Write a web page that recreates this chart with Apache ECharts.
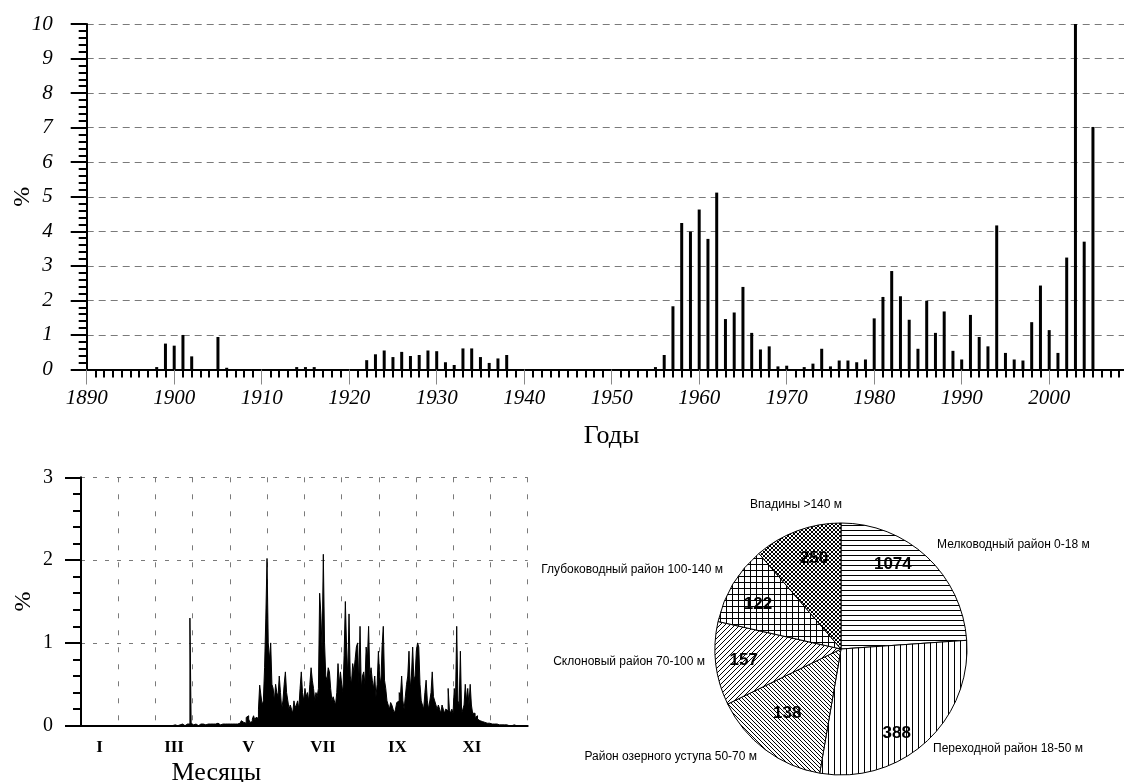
<!DOCTYPE html>
<html><head><meta charset="utf-8">
<script src="https://cdn.jsdelivr.net/npm/echarts@6/dist/echarts.min.js"></script>
<style>html,body{margin:0;padding:0;background:#fff}#c{width:1124px;height:782px}</style>
</head><body><div id="c"></div>
<script>
// ---- Top chart: share (%) by year ----
const barYears = [1898,1899,1900,1901,1902,1905,1906,1914,1915,1916,
  1922,1923,1924,1925,1926,1927,1928,1929,1930,1931,1932,1933,1934,1935,1936,1937,1938,
  1955,1956,1957,1958,1959,1960,1961,1962,1963,1964,1965,1966,1967,1968,1969,1970,1972,1973,1974,1975,1976,1977,1978,1979,
  1980,1981,1982,1983,1984,1985,1986,1987,1988,1989,1990,1991,1992,1993,1994,1995,1996,1997,1998,1999,
  2000,2001,2002,2003,2004,2005];
const barPct = [0.07,0.75,0.69,1.0,0.38,0.94,0.05,0.07,0.07,0.07,
  0.27,0.44,0.55,0.36,0.51,0.39,0.42,0.55,0.53,0.21,0.13,0.61,0.61,0.36,0.19,0.32,0.42,
  0.07,0.42,1.83,4.24,3.99,4.63,3.78,5.12,1.46,1.65,2.39,1.06,0.58,0.67,0.09,0.11,0.07,0.17,0.6,0.09,0.26,0.26,0.21,0.29,
  1.48,2.1,2.85,2.12,1.44,0.6,1.99,1.06,1.68,0.54,0.29,1.58,0.94,0.67,4.17,0.48,0.29,0.26,1.37,2.43,
  1.14,0.48,3.24,10.0,3.70,7.02];

// ---- Bottom-left: share (%) by day of year (1..365) ----
const monthLabels = ['I','II','III','IV','V','VI','VII','VIII','IX','X','XI','XII'];
const dekads = ['1','2','3','4','5','6','7','8','9','10','11','12','13','14','15','16','17','18',
  '19','20','21','22','23','24','25','26','27','28','29','30','31','32','33','34','35','36'];
const dailyPct = [
  // days 1-75
  0,0,0,0,0,0,0,0,0,0,0,0,0,0,0,0,0,0,0,0,0,0,0,0,0,0,0,0,0,0,
  0,0,0,0,0,0,0,0,0,0,0,0,0,0,0,0,0,0,0,0,0,0,0,0,0,0,0,0,0,0,
  0,0,0,0,0,0,0,0,0,0,0,0,0,0,0,
  // 76-89
  0,0.01,0,0,0.01,0.01,0,0.02,0.01,0,0.01,0.02,0.01,0.02,
  // 90
  1.30,
  // 91-123
  0.03,0.01,0.01,0.02,0.01,0,0.01,0.02,0.01,0.02,
  0.02,0.01,0.03,0.02,0.01,0.02,0.03,0.02,0.01,0.02,
  0.02,0.03,0.02,0.01,0.03,0.02,0.03,0.02,0.04,0.02,0.03,0.02,0.03,
  // 124-149
  0.02,0.01,0.02,0.03,0.02,0.04,0.03,0.05,
  0.06,0.04,0.06,0.03,0.1,0.12,0.08,0.04,0.05,
  0.08,0.12,0.07,0.1,0.09,0.2,0.49,0.37,0.25,
  // 150-156
  0.3,0.7,1.3,2.02,1.0,0.8,1.0,
  // 157-165
  0.5,0.45,0.3,0.5,0.4,0.35,0.6,0.4,0.2,
  // 166-175
  0.3,0.5,0.65,0.4,0.3,0.2,0.25,0.2,0.15,0.3,
  // 176-185
  0.22,0.25,0.3,0.2,0.45,0.65,0.4,0.3,0.45,0.35,
  // 186-195
  0.4,0.3,0.5,0.7,0.55,0.45,0.3,0.4,0.35,0.45,
  // 196-205
  1.6,1.35,0.9,2.07,1.0,0.6,0.55,0.7,0.65,0.45,
  // 206-215
  0.3,0.35,0.3,0.25,0.4,0.75,0.5,0.65,0.5,0.4,
  // 216-225
  0.85,1.5,0.95,0.6,1.35,0.6,0.5,0.75,0.65,0.8,
  // 226-235
  0.95,1.0,0.5,1.2,0.45,0.6,0.65,0.5,0.95,0.8,
  // 236-245
  1.2,0.6,0.7,0.55,0.45,0.6,0.35,0.5,0.9,0.6,
  // 246-255
  0.5,0.95,1.2,0.55,0.45,0.3,0.25,0.2,0.28,0.25,
  // 256-265
  0.2,0.15,0.2,0.28,0.3,0.4,0.35,0.6,0.3,0.2,
  // 266-275
  0.35,0.5,0.6,0.9,0.45,0.6,0.95,0.55,0.6,0.9,
  // 276-285
  1.0,0.95,0.5,0.3,0.25,0.2,0.4,0.55,0.3,0.2,
  // 286-295
  0.3,0.4,0.65,0.35,0.3,0.25,0.2,0.25,0.2,0.15,
  // 296-305
  0.25,0.2,0.15,0.2,0.18,0.45,0.2,0.15,0.2,0.15,
  // 306-315
  0.45,0.3,1.2,0.3,0.25,0.9,0.15,0.2,0.25,0.5,
  // 316-325
  0.3,0.45,0.25,0.5,0.25,0.15,0.15,0.1,0.12,0.08,
  // 326-335
  0.06,0.06,0.05,0.04,0.04,0.03,0.03,0.02,0.03,0.02,
  // 336-345
  0.02,0.03,0.02,0.01,0.02,0.02,0.01,0.02,0.01,0.01,
  // 346-355
  0.01,0,0.01,0.01,0,0.01,0,0,0.01,0,
  // 356-365
  0,0,0,0,0,0,0,0,0,0
];

// ---- Bottom-right: zones ----
const zoneNames = ['Мелководный район 0-18 м','Переходной район 18-50 м','Район озерного уступа 50-70 м',
  'Склоновый район 70-100 м','Глубоководный район 100-140 м','Впадины >140 м'];
const zoneCounts = [1074,388,138,157,122,250];
const zoneShare = [23.9,28.8,15.1,10.7,10.2,11.3];

// ---- styling helpers ----
function pattern(size, draw){
  const c = document.createElement('canvas'); c.width = size; c.height = size;
  const g = c.getContext('2d'); g.fillStyle = '#fff'; g.fillRect(0,0,size,size);
  g.strokeStyle = '#000'; g.lineWidth = 1; g.beginPath(); draw(g,size); g.stroke();
  return {image: c, repeat: 'repeat'};
}
const patterns = [
  pattern(5,(g,s)=>{g.moveTo(0,0.5);g.lineTo(s,0.5);}),
  pattern(6,(g,s)=>{g.moveTo(0.5,0);g.lineTo(0.5,s);}),
  pattern(4,(g,s)=>{g.moveTo(-1,-1);g.lineTo(s+1,s+1);g.moveTo(-1,s-1);g.lineTo(1,s+1);g.moveTo(s-1,-1);g.lineTo(s+1,1);}),
  pattern(5,(g,s)=>{g.moveTo(-1,s+1);g.lineTo(s+1,-1);g.moveTo(-1,1);g.lineTo(1,-1);g.moveTo(s-1,s+1);g.lineTo(s+1,s-1);}),
  pattern(6,(g,s)=>{g.moveTo(0,0.5);g.lineTo(s,0.5);g.moveTo(0.5,0);g.lineTo(0.5,s);}),
  pattern(4,(g,s)=>{g.moveTo(-1,-1);g.lineTo(s+1,s+1);g.moveTo(-1,s+1);g.lineTo(s+1,-1);})
];
const namePos = [[937,545,'left'],[933,749,'left'],[757,757,'right'],[705,662,'right'],[723,570,'right'],[796,505,'center']];
const countShift = [[-15,-13],[-10,12],[5,-14],[0,0],[1,6],[7,1]];

const serif = '"Liberation Serif","Times New Roman",serif';
const sans = '"Liberation Sans",Arial,sans-serif';
const gridDash = {color:'#7a7a7a', type:[7,5], width:1};

const chart = echarts.init(document.getElementById('c'), null, {renderer:'canvas'});
chart.setOption({
  animation: false,
  backgroundColor: '#fff',
  grid: [
    {left: 86.7, top: 24, right: -12.7, bottom: 412.5, containLabel: false, outerBoundsMode: 'none'},
    {left: 81, top: 477.3, right: 596.3, bottom: 56.3, containLabel: false, outerBoundsMode: 'none'}
  ],
  xAxis: [
    {type:'value', gridIndex:0, min:1890, max:2010, interval:10,
      axisLine:{lineStyle:{color:'#000', width:2}},
      axisTick:{length:15, lineStyle:{color:'#888', width:1}},
      minorTick:{show:true, splitNumber:10, length:8, lineStyle:{color:'#000', width:2}},
      splitLine:{show:false},
      axisLabel:{color:'#000', fontFamily:serif, fontStyle:'italic', fontSize:21, margin:18,
        formatter: v => (v <= 2000 ? String(v) : '')},
      name:'Годы', nameLocation:'middle', nameGap:54, nameMoveOverlap:false,
      nameTextStyle:{color:'#000', fontFamily:serif, fontSize:26}},
    {type:'category', gridIndex:1, data: monthLabels, boundaryGap:true,
      axisLine:{lineStyle:{color:'#000', width:2}},
      axisTick:{interval:0, length:11, lineStyle:{color:'#000', width:2}},
      splitLine:{show:true, interval:0, lineStyle:{color:'#7a7a7a', type:[5,12], width:1}},
      axisLabel:{interval:1, color:'#000', fontFamily:serif, fontWeight:'bold', fontSize:17, margin:13},
      name:'Месяцы', nameLocation:'middle', nameGap:34, nameMoveOverlap:false,
      nameTextStyle:{color:'#000', fontFamily:serif, fontSize:26, padding:[0,176,0,0]}},
    {type:'category', gridIndex:1, data: dekads, boundaryGap:true,
      axisLine:{show:false}, axisLabel:{show:false}, splitLine:{show:false},
      axisTick:{interval:0, length:6, lineStyle:{color:'#000', width:2}}},
    {type:'value', gridIndex:1, min:0, max:365, show:false}
  ],
  yAxis: [
    {type:'value', gridIndex:0, min:0, max:10, interval:1,
      axisLine:{show:true, lineStyle:{color:'#000', width:2}},
      axisTick:{show:true, length:16, lineStyle:{color:'#000', width:2}},
      minorTick:{show:true, splitNumber:5, length:8, lineStyle:{color:'#000', width:2}},
      splitLine:{show:true, lineStyle:gridDash},
      axisLabel:{color:'#000', fontFamily:serif, fontStyle:'italic', fontSize:21, margin:34},
      name:'%', nameLocation:'middle', nameGap:52, nameMoveOverlap:false,
      nameTextStyle:{color:'#000', fontFamily:serif, fontSize:24}},
    {type:'value', gridIndex:1, min:0, max:3, interval:1,
      axisLine:{show:true, lineStyle:{color:'#000', width:2}},
      axisTick:{show:true, length:16, lineStyle:{color:'#000', width:2}},
      minorTick:{show:true, splitNumber:5, length:8, lineStyle:{color:'#000', width:2}},
      splitLine:{show:true, lineStyle:{color:'#7a7a7a', type:[4,8], width:1}},
      axisLabel:{color:'#000', fontFamily:serif, fontSize:20, margin:28},
      name:'%', nameLocation:'middle', nameGap:45, nameMoveOverlap:false,
      nameTextStyle:{color:'#000', fontFamily:serif, fontSize:24}}
  ],
  series: [
    {type:'bar', xAxisIndex:0, yAxisIndex:0, barWidth:3,
      itemStyle:{color:'#000'},
      data: barYears.map((y,i)=>[y, barPct[i]])},
    {type:'line', xAxisIndex:3, yAxisIndex:1, step:'middle', symbol:'none',
      lineStyle:{color:'#000', width:1}, areaStyle:{color:'#000', opacity:1},
      data: dailyPct.map((v,i)=>[i+0.5, v])},
    {type:'pie', center:[841,649], radius:126, startAngle:90, clockwise:true,
      avoidLabelOverlap:false, silent:true,
      itemStyle:{borderColor:'#000', borderWidth:1},
      label:{show:true, position:'outside', formatter:'{b}', color:'#000', fontFamily:sans, fontSize:12},
      labelLine:{show:false},
      labelLayout: p => { const q = namePos[p.dataIndex]; return {x:q[0], y:q[1], align:q[2], verticalAlign:'middle'}; },
      data: zoneNames.map((n,i)=>({name:n, value:zoneShare[i], itemStyle:{color:patterns[i]}}))},
    {type:'pie', center:[841,649], radius:[64,126], startAngle:90, clockwise:true,
      avoidLabelOverlap:false, silent:true,
      itemStyle:{color:'rgba(0,0,0,0)', borderWidth:0},
      label:{show:true, position:'inside', color:'#000', fontFamily:sans, fontWeight:'bold', fontSize:17,
        formatter: p => String(zoneCounts[p.dataIndex])},
      labelLine:{show:false},
      labelLayout: p => { const d = countShift[p.dataIndex]; return {dx:d[0], dy:d[1]}; },
      data: zoneNames.map((n,i)=>({name:n, value:zoneShare[i]}))}
  ]
});
</script></body></html>
